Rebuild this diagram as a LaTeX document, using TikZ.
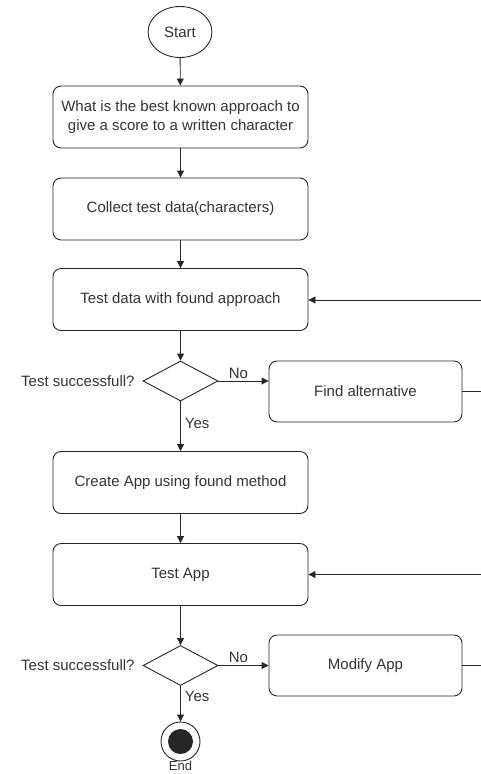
\documentclass[tikz,border=0pt]{standalone}
\usepackage{fontspec}
\setmainfont{Liberation Sans}
\usetikzlibrary{arrows.meta,shapes.geometric}
\begin{document}
\begin{tikzpicture}[x=1pt,y=-1pt,
  line width=0.9pt, color={black!85},
  every node/.style={font=\fontsize{15}{19}\selectfont, text=black!80},
  box/.style={draw, rounded corners=8pt, minimum width=255pt, minimum height=62pt, align=center, inner sep=0pt},
  sbox/.style={draw, rounded corners=8pt, minimum width=193pt, minimum height=61pt, align=center, inner sep=0pt},
  dec/.style={draw, diamond, minimum width=75pt, minimum height=40pt, inner sep=0pt, aspect=1.875},
  arr/.style={-{Triangle[length=7pt,width=7pt]}},
  lbl/.style={inner sep=0pt}]
\useasboundingbox (0,0) rectangle (481,774);
\node[draw, ellipse, minimum width=64pt, minimum height=51pt, inner sep=0pt] (start) at (180,32) {Start};
\node[box] (q) at (180.5,117) {What is the best known approach to\\give a score to a written character};
\node[box] (collect) at (180.5,209) {Collect test data(characters)};
\node[box] (testdata) at (180.5,299.5) {Test data with found approach};
\node[dec] (d1) at (180.5,381) {};
\node[lbl, anchor=east] (t1) at (135,381) {Test successfull?};
\node[sbox] (alt) at (365.5,391.5) {Find alternative};
\node[box] (create) at (180.5,482.5) {Create App using found method};
\node[box] (testapp) at (180.5,574.5) {Test App};
\node[dec] (d2) at (180.5,665.5) {};
\node[lbl, anchor=east] (t2) at (135,665.5) {Test successfull?};
\node[sbox] (mod) at (365.5,665.5) {Modify App};
\node[draw, circle, minimum size=39pt, inner sep=0pt] (end) at (180.5,741.5) {};
\fill (end.center) circle (12.5pt);
\node[lbl, font=\fontsize{13}{15}\selectfont] (endl) at (180.5,765.5) {End};
\coordinate (e1) at (481,391.5);
\coordinate (e2) at (481,300);
\coordinate (e3) at (481,665.5);
\coordinate (e4) at (481,574.5);
\draw[arr] (start) -- (q);
\draw[arr] (q) -- (collect);
\draw[arr] (collect) -- (testdata);
\draw[arr] (testdata) -- (d1);
\draw[arr] (d1.east) -- node[lbl, above, pos=0.4, yshift=2pt] (no1) {No} (alt.west |- d1.east);
\draw[arr] (d1) -- node[lbl, right, pos=0.45, xshift=4pt] (yes1) {Yes} (create);
\draw (alt.east) -- (e1);
\draw[arr] (e2) -- (testdata.east |- e2);
\draw[arr] (create) -- (testapp);
\draw[arr] (testapp) -- (d2);
\draw[arr] (d2.east) -- node[lbl, above, pos=0.4, yshift=2pt] (no2) {No} (mod.west);
\draw[arr] (d2) -- node[lbl, right, pos=0.3, xshift=4pt] (yes2) {Yes} (end);
\draw (mod.east) -- (e3);
\draw[arr] (e4) -- (testapp.east |- e4);
\end{tikzpicture}
\end{document}
